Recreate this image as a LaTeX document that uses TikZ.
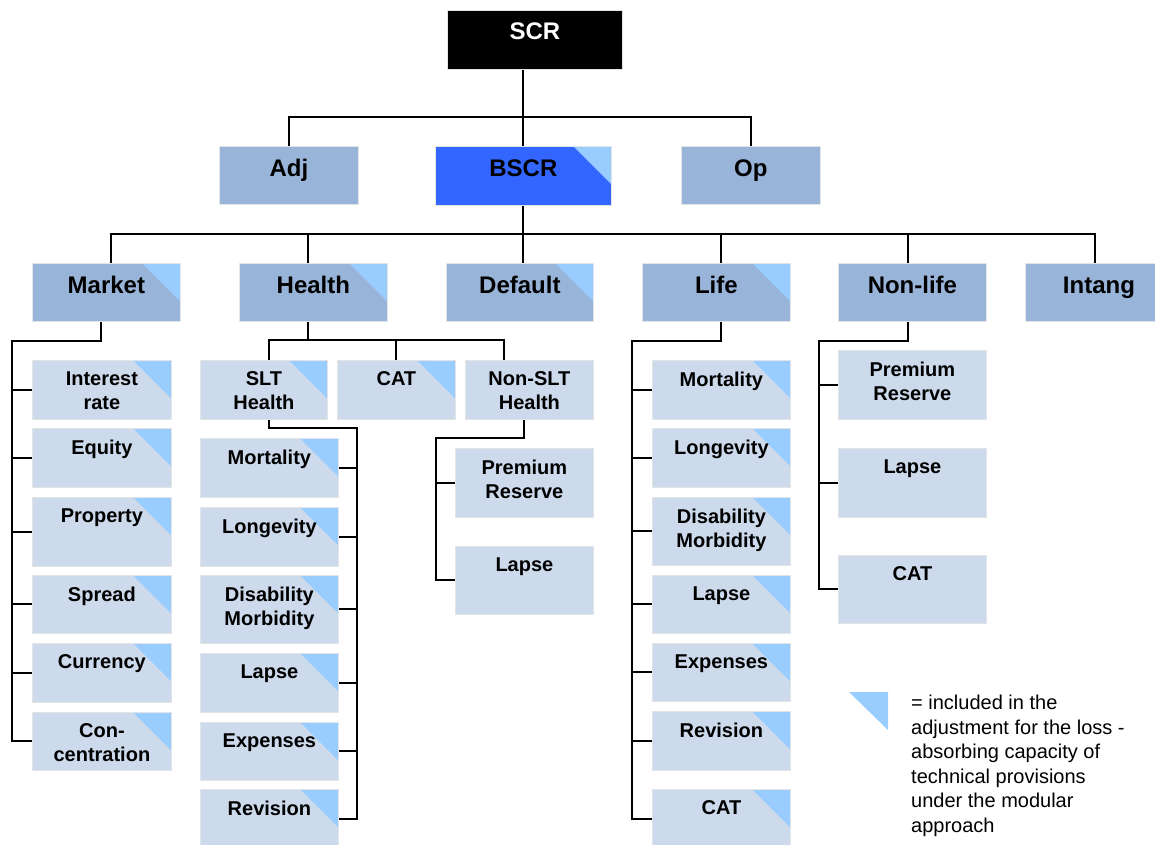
\documentclass[tikz,border=0pt]{standalone}
\usepackage{fontspec}
\setmainfont{Liberation Sans}

\definecolor{hdfill}{RGB}{153,180,217}
\definecolor{sbfill}{RGB}{204,218,236}
\definecolor{cornerblue}{RGB}{153,204,255}
\definecolor{bscrblue}{RGB}{51,102,255}
\definecolor{rim}{RGB}{226,228,232}

\tikzset{
  box/.style={anchor=north west, inner sep=0pt, draw=rim, line width=0.8pt},
  bw/.style={minimum width=#1pt},
  bh/.style={minimum height=#1pt},
  corner/.style={path picture={\fill[cornerblue] (path picture bounding box.north east) -- ++(-38pt,0pt) -- ++(38pt,-38pt) -- cycle;}},
  hdtxt/.style={anchor=north, yshift=-13.4pt, inner sep=0pt, font=\fontsize{24}{28}\selectfont\bfseries},
  sbtxt/.style={anchor=north, yshift=-11.8pt, inner sep=0pt, align=center, font=\fontsize{20}{24}\selectfont\bfseries},
  hd/.style={box, fill=hdfill, label={[hdtxt]north:#1}},
  sb/.style={box, fill=sbfill, label={[sbtxt]north:#1}},
  scrbox/.style={box, fill=black, label={[hdtxt, yshift=1pt, text=white]north:#1}},
  wire/.style={line width=2pt},
  note/.style={anchor=north west, inner sep=0pt, align=left, font=\fontsize{20}{24.5}\selectfont},
}

\begin{document}
\begin{tikzpicture}[x=1pt,y=-1pt]
\useasboundingbox (0,0) rectangle (1155,844);

% top of the tree
\node[scrbox=SCR, bw=175, bh=59] (scr) at (447,10) {};
\node[hd=Adj, bw=139, bh=58] (adj) at (219,146) {};
\node[hd=BSCR, fill=bscrblue, corner, bw=176, bh=59] (bscr) at (435,146) {};
\node[hd=Op, bw=139, bh=58] (op) at (681,146) {};
\draw[wire] (bscr.north |- scr.south) -- (bscr.north);
\draw[wire] (adj.north) |- ([yshift=29pt]op.north) -- (op.north);

% modules
\node[hd=Market, corner, bw=148, bh=58] (market) at (32,263) {};
\node[hd=Health, corner, bw=148, bh=58] (health) at (239,263) {};
\node[hd=Default, corner, bw=147, bh=58] (default) at (446,263) {};
\node[hd=Life, corner, bw=148, bh=58] (life) at (642,263) {};
\node[hd=Non-life, bw=148, bh=58] (nonlife) at (838,263) {};
\node[hd=Intang, bw=147, bh=58] (intang) at (1025,263) {};
\draw[wire] (bscr.south) -- (bscr.south |- default.north);
\draw[wire] ([xshift=5pt]market.north) |- ([xshift=-4pt,yshift=29pt]intang.north) -- ([xshift=-4pt]intang.north);
\draw[wire] ([xshift=-5pt]health.north) -- ([xshift=-5pt,yshift=29pt]health.north);
\draw[wire] ([xshift=5pt]life.north) -- ([xshift=5pt,yshift=29pt]life.north);
\draw[wire] ([xshift=-4pt]nonlife.north) -- ([xshift=-4pt,yshift=29pt]nonlife.north);

% market
\node[sb=Interest\\rate, corner, bw=139, bh=59] (ir) at (32,360) {};
\node[sb=Equity, corner, bw=139, bh=59] (eq) at (32,428) {};
\node[sb=Property, corner, bw=139, bh=69] (prop) at (32,497) {};
\node[sb=Spread, corner, bw=139, bh=58] (spr) at (32,575) {};
\node[sb=Currency, corner, bw=139, bh=59] (cur) at (32,643) {};
\node[sb=Con-\\centration, corner, bw=139, bh=58] (conc) at (32,712) {};
\coordinate (mkspine) at (12,341);
\draw[wire] ([xshift=-5pt]market.south) |- (mkspine) |- (conc.west);
\draw[wire] (mkspine |- ir.west) -- (ir.west);
\draw[wire] (mkspine |- eq.west) -- (eq.west);
\draw[wire] (mkspine |- prop.west) -- (prop.west);
\draw[wire] (mkspine |- spr.west) -- (spr.west);
\draw[wire] (mkspine |- cur.west) -- (cur.west);

% health
\node[sb=SLT\\Health, corner, bw=127, bh=59] (slt) at (200,360) {};
\node[sb=CAT, corner, bw=118, bh=59] (hcat) at (337,360) {};
\node[sb=Non-SLT\\Health, bw=128, bh=59] (nslt) at (465,360) {};
\draw[wire] ([xshift=-5pt]health.south) -- ([xshift=-5pt,yshift=-19pt]health.south);
\draw[wire] ([xshift=5pt]slt.north) |- ([xshift=-25pt,yshift=20pt]nslt.north) -- ([xshift=-25pt]nslt.north);
\draw[wire] (hcat.north) -- ([yshift=20pt]hcat.north);

% SLT health
\node[sb=Mortality, corner, bw=138, bh=59] (smort) at (200,438) {};
\node[sb=Longevity, corner, bw=138, bh=59] (slong) at (200,507) {};
\node[sb=Disability\\Morbidity, corner, bw=138, bh=68] (sdis) at (200,575) {};
\node[sb=Lapse, corner, bw=138, bh=59] (slapse) at (200,653) {};
\node[sb=Expenses, corner, bw=138, bh=58] (sexp) at (200,722) {};
\node[sb=Revision, corner, bw=138, bh=59] (srev) at (200,789) {};
\coordinate (sltspine) at (357,428);
\draw[wire] ([xshift=5pt]slt.south) |- (sltspine) |- (srev.east);
\draw[wire] (sltspine |- smort.east) -- (smort.east);
\draw[wire] (sltspine |- slong.east) -- (slong.east);
\draw[wire] (sltspine |- sdis.east) -- (sdis.east);
\draw[wire] (sltspine |- slapse.east) -- (slapse.east);
\draw[wire] (sltspine |- sexp.east) -- (sexp.east);

% non-SLT health
\node[sb=Premium\\Reserve, bw=138, bh=69] (hprem) at (455,448) {};
\node[sb=Lapse, bw=138, bh=68] (hlapse) at (455,546) {};
\coordinate (nsltspine) at (436,438);
\draw[wire] ([xshift=-5pt]nslt.south) |- (nsltspine) |- (hlapse.west);
\draw[wire] (nsltspine |- hprem.west) -- (hprem.west);

% life
\node[sb=Mortality, corner, bw=138, bh=59] (lmort) at (652,360) {};
\node[sb=Longevity, corner, bw=138, bh=59] (llong) at (652,428) {};
\node[sb=Disability\\Morbidity, corner, bw=138, bh=68] (ldis) at (652,497) {};
\node[sb=Lapse, corner, bw=138, bh=58] (llapse) at (652,575) {};
\node[sb=Expenses, corner, bw=138, bh=58] (lexp) at (652,643) {};
\node[sb=Revision, corner, bw=138, bh=59] (lrev) at (652,711) {};
\node[sb=CAT, corner, bw=138, bh=59] (lcat) at (652,789) {};
\coordinate (lfspine) at (632,341);
\draw[wire] ([xshift=5pt]life.south) |- (lfspine) |- (lcat.west);
\draw[wire] (lfspine |- lmort.west) -- (lmort.west);
\draw[wire] (lfspine |- llong.west) -- (llong.west);
\draw[wire] (lfspine |- ldis.west) -- (ldis.west);
\draw[wire] (lfspine |- llapse.west) -- (llapse.west);
\draw[wire] (lfspine |- lexp.west) -- (lexp.west);
\draw[wire] (lfspine |- lrev.west) -- (lrev.west);

% non-life
\node[sb=Premium\\Reserve, bw=148, bh=69] (nprem) at (838,350) {};
\node[sb=Lapse, bw=148, bh=69] (nlapse) at (838,448) {};
\node[sb=CAT, bw=148, bh=68] (ncat) at (838,555) {};
\coordinate (nlspine) at (819,341);
\draw[wire] ([xshift=-4pt]nonlife.south) |- (nlspine) |- (ncat.west);
\draw[wire] (nlspine |- nprem.west) -- (nprem.west);
\draw[wire] (nlspine |- nlapse.west) -- (nlapse.west);

% key
\fill[cornerblue] (888,692) -- (849,692) -- (888,730) -- cycle;
\node[note] (legend) at (911,695) {= included in the\\adjustment for the loss -\\absorbing capacity of\\technical provisions\\under the modular\\approach};
\end{tikzpicture}
\end{document}
